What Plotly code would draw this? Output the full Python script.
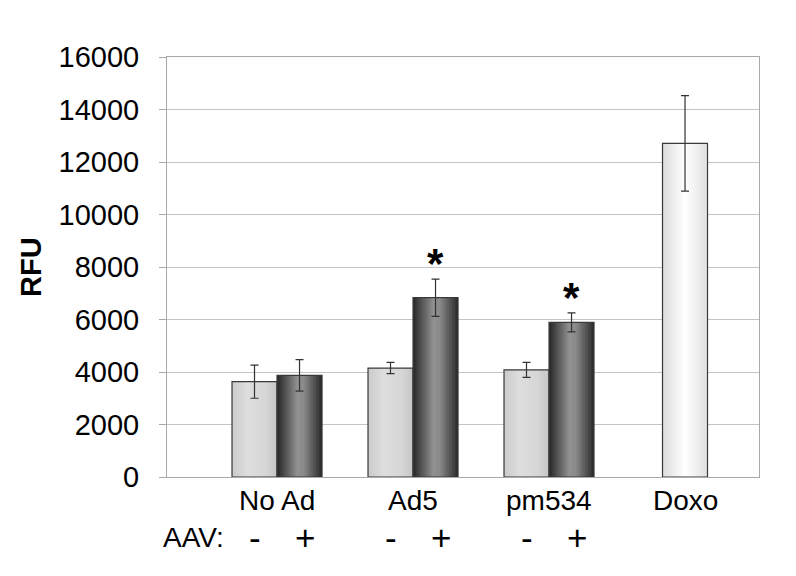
import plotly.graph_objects as go

# ---------------- data ----------------
groups = ["No Ad", "Ad5", "pm534"]
aav_minus = [3630, 4150, 4080]
aav_minus_err = [630, 215, 285]
aav_plus = [3870, 6830, 5890]
aav_plus_err = [600, 710, 360]
significant_plus = [False, True, True]

doxo_label = ["Doxo"]
doxo_value = [12710]
doxo_err = [1820]

y_tick_vals = [0, 2000, 4000, 6000, 8000, 10000, 12000, 14000, 16000]
y_tick_text = ["0", "2000", "4000", "6000", "8000", "10000", "12000", "14000", "16000"]
aav_row_label = "AAV:"
aav_marks = ["-", "+"]
y_title = "RFU"

# ---------------- styling ----------------
FONT = "Liberation Sans, Arial, sans-serif"
group_x = [1, 2, 3]
doxo_x = [4]
W = 0.331          # single bar width (axis units)
N = 30             # gradient slices

light_stops = [(0.0, (202, 202, 202)), (0.35, (222, 222, 222)), (0.75, (214, 214, 214)), (1.0, (198, 198, 198))]
dark_stops = [(0.0, (38, 38, 38)), (0.45, (145, 145, 145)), (0.6, (138, 138, 138)), (1.0, (42, 42, 42))]
white_stops = [(0.0, (220, 220, 220)), (0.5, (255, 255, 255)), (1.0, (224, 224, 224))]


def grad(stops, t):
    for (t0, c0), (t1, c1) in zip(stops[:-1], stops[1:]):
        if t0 <= t <= t1:
            f = (t - t0) / (t1 - t0) if t1 > t0 else 0
            c = [round(a + (b - a) * f) for a, b in zip(c0, c1)]
            return "rgb(%d,%d,%d)" % tuple(c)
    return "rgb(%d,%d,%d)" % stops[-1][1]


fig = go.Figure()


def add_bar(xs, ys, errs, base_off, stops):
    step = W / N
    for i in range(N):
        t = (i + 0.5) / N
        off = base_off + i * step
        wid = min(step * 1.8, W - i * step)
        fig.add_trace(go.Bar(
            x=xs, y=ys, offset=off, width=wid,
            marker=dict(color=grad(stops, t), line=dict(width=0)),
            hoverinfo="skip", showlegend=False,
        ))
    fig.add_trace(go.Bar(
        x=xs, y=ys, offset=base_off, width=W,
        marker=dict(color="rgba(0,0,0,0)", line=dict(color="#3a3a3a", width=1.2)),
        error_y=dict(type="data", array=errs, visible=True, color="#333333", thickness=1.2, width=4),
        showlegend=False,
    ))


add_bar(group_x, aav_minus, aav_minus_err, -W, light_stops)
add_bar(group_x, aav_plus, aav_plus_err, 0.0, dark_stops)
add_bar(doxo_x, doxo_value, doxo_err, -W / 2, white_stops)

annotations = []
# category labels
for x, lab in zip(group_x + doxo_x, groups + doxo_label):
    annotations.append(dict(x=x, y=-0.057, xref="x", yref="paper", text=lab,
                            showarrow=False, xanchor="center", yanchor="middle",
                            font=dict(family=FONT, size=28, color="black")))
# AAV row
annotations.append(dict(x=0.0456, y=-0.143, xref="paper", yref="paper", text=aav_row_label,
                        showarrow=False, xanchor="center", yanchor="middle",
                        font=dict(family=FONT, size=28, color="black")))
for x in group_x:
    annotations.append(dict(x=x - W / 2, y=-0.143, xref="x", yref="paper", text=aav_marks[0],
                            showarrow=False, xanchor="center", yanchor="middle",
                            font=dict(family=FONT, size=35, color="black")))
    annotations.append(dict(x=x + W / 2, y=-0.143, xref="x", yref="paper", text=aav_marks[1],
                            showarrow=False, xanchor="center", yanchor="middle", xshift=5,
                            font=dict(family=FONT, size=35, color="black")))
# significance stars
for x, v, e, s in zip(group_x, aav_plus, aav_plus_err, significant_plus):
    if s:
        annotations.append(dict(x=x + W / 2, y=v + e, xref="x", yref="y", text="<b>*</b>",
                                showarrow=False, xanchor="center", yanchor="bottom", yshift=-10,
                                font=dict(family=FONT, size=42, color="black")))
# y title
annotations.append(dict(x=-0.2297, y=0.5, xref="paper", yref="paper", text="<b>%s</b>" % y_title,
                        showarrow=False, textangle=-90, xanchor="center", yanchor="middle",
                        font=dict(family=FONT, size=29, color="black")))

fig.update_layout(
    width=796, height=576,
    margin=dict(l=167, r=37, t=57, b=99),
    paper_bgcolor="white", plot_bgcolor="white",
    barmode="overlay",
    annotations=annotations,
    font=dict(family=FONT, size=28, color="black"),
    xaxis=dict(range=[0.191, 4.544], showgrid=False, zeroline=False, showticklabels=False,
               showline=True, mirror=True, linecolor="#a8a8a8", linewidth=1, ticks=""),
    yaxis=dict(range=[0, 16000], tickvals=y_tick_vals, ticktext=y_tick_text, showgrid=True,
               gridcolor="#c4c4c4", gridwidth=1, zeroline=False, showline=True, mirror=True,
               linecolor="#a8a8a8", linewidth=1, ticks="outside", ticklen=7, tickcolor="#a8a8a8",
               ticklabelstandoff=14,
               tickfont=dict(family=FONT, size=29, color="black")),
)

fig.write_html("out.html", config={"displayModeBar": False},
               post_script="document.body.style.margin='0';")
